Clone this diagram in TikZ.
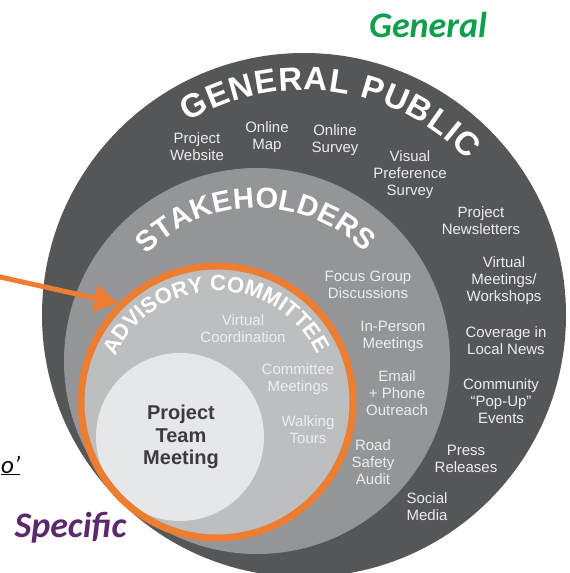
\documentclass[tikz,border=0pt]{standalone}
\usepackage{fontspec}
\setmainfont{Liberation Sans}
\newfontfamily\calibri{Carlito}
\usetikzlibrary{arrows.meta,decorations.text}

\definecolor{publicgray}{HTML}{555658}
\definecolor{stakegray}{HTML}{939598}
\definecolor{commgray}{HTML}{BCBEC0}
\definecolor{teamgray}{HTML}{E6E7E8}
\definecolor{ringorange}{HTML}{ED7D31}
\definecolor{labelgray}{HTML}{EDEDEE}
\definecolor{teamtext}{HTML}{3C3C3E}
\definecolor{generalgreen}{HTML}{0E9F4D}
\definecolor{specificpurple}{HTML}{5C2A6A}

\begin{document}
\begin{tikzpicture}[x=1pt, y=1pt,
  disc/.style={circle, inner sep=0pt, outer sep=0pt},
  lbl/.style={align=center, text=labelgray, inner sep=0pt, font=\fontsize{15}{17}\selectfont},
  arc text/.style={decorate, decoration={text along path, text align=fit to path, text color=white, text={#1}}},
  side word/.style={font=\calibri\bfseries\itshape\fontsize{36}{36}\selectfont, anchor=base, inner sep=0pt}]
\clip (0,0) rectangle (570,-573);

% rings
\node[disc, fill=publicgray, minimum size=524pt] (public) at (304,-315) {};
\node[disc, fill=stakegray, minimum size=386pt] (stake) at (257,-361) {};
\node[disc, fill=commgray, minimum size=272pt, outer sep=3.5pt] (comm) at (217,-402) {};
\node[disc, fill=teamgray, minimum size=168pt] (team) at (180,-437) {};
\draw[ringorange, line width=7pt] (comm.center) circle[radius=136];

% ring titles
\path[arc text={|\bfseries\fontsize{33}{33}\selectfont|GENERAL PUBLIC}]
  ([shift={(121:225)}]public.center) arc[start angle=121, end angle=43.5, radius=225];
\path[arc text={|\bfseries\fontsize{29}{29}\selectfont|STAKEHOLDERS}]
  ([shift={(136:153)}]stake.center) arc[start angle=136, end angle=45, radius=153];
\path[arc text={|\bfseries\fontsize{22}{22}\selectfont|ADVISORY COMMITTEE}]
  ([shift={(156:111)}]comm.center) arc[start angle=156, end angle=27.5, radius=111];

% general public
\node[lbl] (website) at (197,-147) {Project\\Website};
\node[lbl] (map) at (267,-137) {Online\\Map};
\node[lbl] (survey) at (335,-140) {Online\\Survey};
\node[lbl] (visual) at (410,-175) {Visual\\Preference\\Survey};
\node[lbl] (newsletters) at (481,-221) {Project\\Newsletters};
\node[lbl] (workshops) at (504,-281) {Virtual\\Meetings/\\Workshops};
\node[lbl] (news) at (506,-341) {Coverage in\\Local News};
\node[lbl] (popup) at (501,-401) {Community\\“Pop-Up”\\Events};
\node[lbl] (press) at (466,-459) {Press\\Releases};
\node[lbl] (social) at (427,-507) {Social\\Media};

% stakeholders
\node[lbl] (focus) at (368,-285) {Focus Group\\Discussions};
\node[lbl] (inperson) at (393,-336) {In-Person\\Meetings};
\node[lbl] (email) at (397,-393) {Email\\+ Phone\\Outreach};
\node[lbl] (audit) at (373,-462) {Road\\Safety\\Audit};

% advisory committee
\node[lbl] (coord) at (243,-329) {Virtual\\Coordination};
\node[lbl] (commmeet) at (298,-379) {Committee\\Meetings};
\node[lbl] (tours) at (308,-430) {Walking\\Tours};

% project team
\node[align=center, text=teamtext, font=\bfseries\fontsize{20}{22.5}\selectfont] (ptm) at (181,-437) {Project\\Team\\Meeting};

% pointer
\coordinate (arrowstart) at (-2,-276.5);
\draw[ringorange, line width=5pt, -{Triangle[length=24pt, width=26pt]}] (arrowstart) -- (comm.135);

% side words
\node[side word, text=generalgreen] (general) at (428,-37) {General};
\node[side word, text=specificpurple] (specific) at (70.5,-537) {Specific};
\node[font=\calibri\itshape\fontsize{25}{25}\selectfont, anchor=base west, inner sep=0pt] (cutword) at (1,-473) {\underline{o’}};
\end{tikzpicture}
\end{document}
